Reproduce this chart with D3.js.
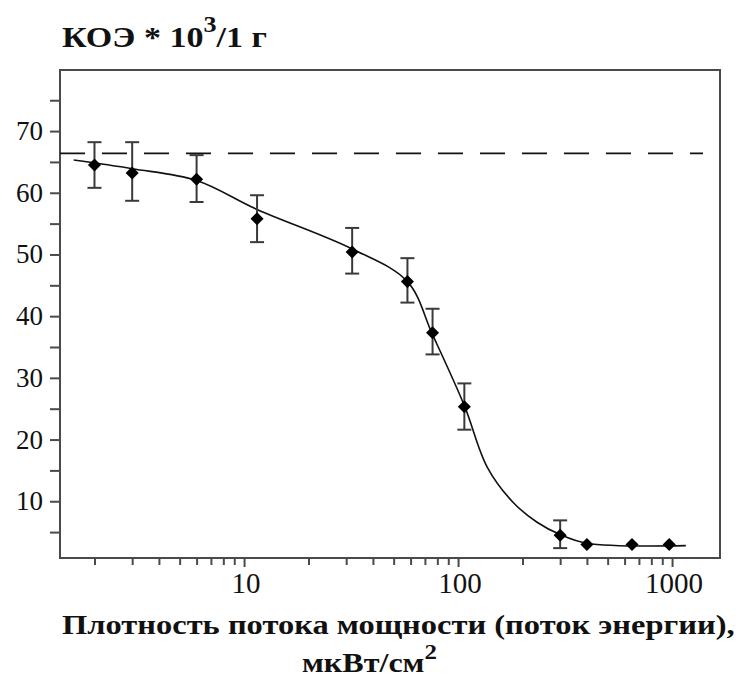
<!DOCTYPE html>
<html><head><meta charset="utf-8">
<script src="https://cdn.jsdelivr.net/npm/d3@7"></script>
<style>body{margin:0;background:#fff}svg{display:block}</style>
</head><body><div id="chart"></div>
<script>
// Data
const xValues  = [2, 3, 6, 11.5, 32, 58, 76, 107, 300, 400, 650, 970];
const yValues  = [64.5, 63.2, 62.2, 55.8, 50.4, 45.6, 37.3, 25.3, 4.5, 3.0, 3.0, 3.0];
const errLow   = [60.8, 58.7, 58.5, 52.0, 46.9, 42.2, 33.8, 21.6, 2.4, null, null, null];
const errHigh  = [68.2, 68.2, 66.1, 59.6, 54.3, 49.4, 41.2, 29.1, 6.9, null, null, null];
// fitted curve
const curveX = [1.6, 3, 6, 11.5, 32, 58, 76, 107, 137, 181, 234, 300, 400, 1160];
const curveY = [65.3, 63.9, 62.0, 57.3, 50.9, 45.6, 37.0, 25.5, 15.5, 9.8, 6.6, 4.6, 3.2, 2.8];
const controlLevel = 66.4;
const yTicks = [10, 20, 30, 40, 50, 60, 70];
const yMinorTicks = [5, 15, 25, 35, 45, 55, 65, 75];
const xTicks = [10, 100, 1000];
const xMinorTicks = [2,3,4,5,6,7,8,9,20,30,40,50,60,70,80,90,200,300,400,500,600,700,800,900];
const titleText = "КОЭ * 10";
const titleSup = "3";
const titleRest = "/1 г";
const xLabel1 = "Плотность потока мощности (поток энергии),";
const xLabel2 = "мкВт/см";
const xLabel2Sup = "2";

const W = 742, H = 679;
const L = 60, R = 720, T = 70, B = 558;
const svg = d3.select("#chart").append("svg").attr("width", W).attr("height", H);
const x = d3.scaleLog().domain([1.38, 1675]).range([L, R]);
const y = d3.scaleLinear().domain([0.8, 79.9]).range([B, T]);
const axisColor = "#4a4a4a";
const serif = "Liberation Serif, Times New Roman, serif";

// frame
svg.append("rect").attr("x", L).attr("y", T).attr("width", R - L).attr("height", B - T)
  .attr("fill", "none").attr("stroke", axisColor).attr("stroke-width", 2);

// y axis (ticks from d3 axis, labels from the same scale)
const gy = svg.append("g").attr("transform", `translate(${L},0)`)
  .call(d3.axisLeft(y).tickValues(yTicks.concat(yMinorTicks)).tickSize(10).tickFormat(""));
gy.select(".domain").remove();
gy.selectAll(".tick line").attr("stroke", axisColor).attr("stroke-width", 2);
svg.append("g").selectAll("text").data(yTicks).join("text")
  .attr("x", L - 17).attr("y", d => y(d) + 9).attr("text-anchor", "end")
  .style("font-family", serif).style("font-size", "27px").style("fill", "#111")
  .text(d => d3.format("d")(d));

// x axis
const gx = svg.append("g").attr("transform", `translate(0,${B})`)
  .call(d3.axisBottom(x).tickValues(xTicks).tickSize(9).tickFormat(""));
gx.select(".domain").remove();
gx.selectAll(".tick line").attr("stroke", axisColor).attr("stroke-width", 2);
const gxm = svg.append("g").attr("transform", `translate(0,${B})`)
  .call(d3.axisBottom(x).tickValues(xMinorTicks).tickSize(7).tickFormat(""));
gxm.select(".domain").remove();
gxm.selectAll(".tick line").attr("stroke", axisColor).attr("stroke-width", 2);
svg.append("g").selectAll("text").data(xTicks).join("text")
  .attr("x", d => x(d) + 2).attr("y", 593).attr("text-anchor", "middle")
  .style("font-family", serif).style("font-size", "29px").style("fill", "#111")
  .text(d => d3.format("d")(d));

// dashed control line
svg.append("line").attr("x1", L).attr("x2", 703)
  .attr("y1", y(controlLevel)).attr("y2", y(controlLevel))
  .attr("stroke", "#111").attr("stroke-width", 1.8).attr("stroke-dasharray", "25,17");

// fitted curve
const curveData = curveX.map((d, i) => [d, curveY[i]]);
svg.append("path").datum(curveData)
  .attr("d", d3.line().x(d => x(d[0])).y(d => y(d[1])).curve(d3.curveCatmullRom.alpha(0.5)))
  .attr("fill", "none").attr("stroke", "#111").attr("stroke-width", 1.6);

// error bars
const pts = xValues.map((d, i) => ({x: d, y: yValues[i], lo: errLow[i], hi: errHigh[i]}));
const eb = svg.append("g").selectAll("g").data(pts.filter(d => d.lo !== null)).join("g")
  .attr("stroke", "#3a3a3a").attr("stroke-width", 2);
eb.append("line").attr("x1", d => x(d.x)).attr("x2", d => x(d.x)).attr("y1", d => y(d.lo)).attr("y2", d => y(d.hi));
eb.append("line").attr("x1", d => x(d.x) - 7).attr("x2", d => x(d.x) + 7).attr("y1", d => y(d.lo)).attr("y2", d => y(d.lo));
eb.append("line").attr("x1", d => x(d.x) - 7).attr("x2", d => x(d.x) + 7).attr("y1", d => y(d.hi)).attr("y2", d => y(d.hi));

// markers (rotated squares)
svg.append("g").selectAll("path").data(pts).join("path")
  .attr("transform", d => `translate(${x(d.x)},${y(d.y)}) rotate(45)`)
  .attr("d", d3.symbol().type(d3.symbolSquare).size(85))
  .attr("fill", "#000");

// helper: fit a text horizontally between x0 and x1 (baseline yb)
function fitText(buildFn, x0, x1, yb) {
  const g = svg.append("g");
  const t = g.append("text").attr("x", 0).attr("y", 0).style("font-family", serif)
    .style("font-weight", "bold").style("fill", "#111");
  buildFn(t);
  const bb = t.node().getBBox();
  const s = (x1 - x0) / bb.width;
  g.attr("transform", `translate(${x0 - bb.x * s},${yb}) scale(${s},1)`);
}

// title
fitText(t => {
  t.style("font-size", "30px");
  t.append("tspan").text(titleText);
  t.append("tspan").attr("dy", -15).style("font-size", "23px").text(titleSup);
  t.append("tspan").attr("dy", 15).text(titleRest);
}, 62, 267, 47);

// x label
fitText(t => { t.style("font-size", "27px").text(xLabel1); }, 62, 735, 634);
fitText(t => {
  t.style("font-size", "27px");
  t.append("tspan").text(xLabel2);
  t.append("tspan").attr("dy", -13).style("font-size", "21px").text(xLabel2Sup);
}, 302, 437, 672);
</script></body></html>
